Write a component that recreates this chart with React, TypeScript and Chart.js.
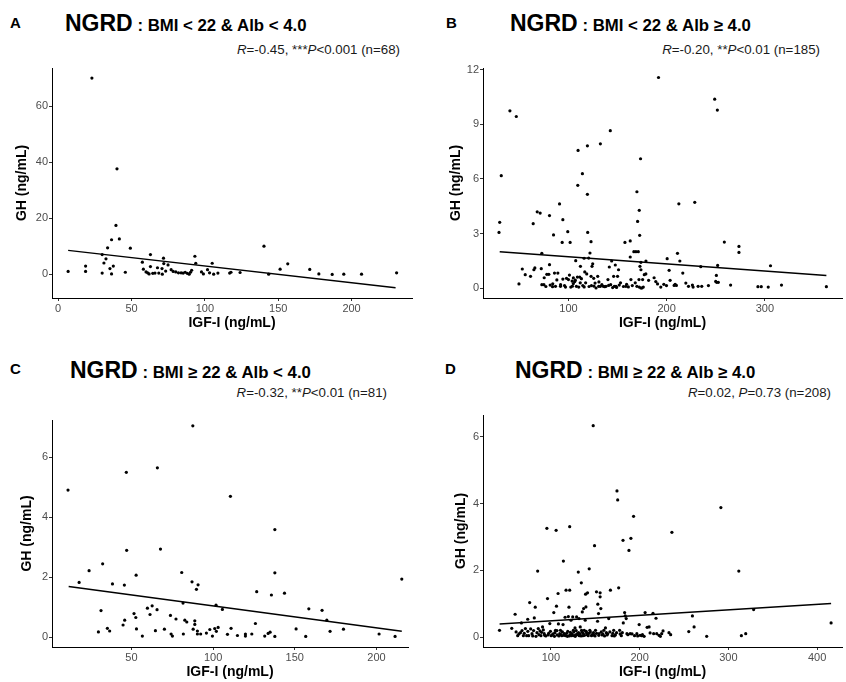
import React, { useEffect, useRef } from "react";
import { Chart, registerables } from "chart.js";

Chart.register(...registerables);

const FONT = '"Liberation Sans", Arial, Helvetica, sans-serif';

type P = [number, number];

// ---------- Panel A : BMI < 22 & Alb < 4.0 ----------
const pointsA: P[] = [
  [6.8, 1.1], [18.7, 1.1], [18.7, 3.0], [23, 70.1], [30, 7.1], [30, 0.5], [31.2, 4.1], [32.6, 5.6],
  [33.7, 9.5], [35.3, 2.1], [36.4, 12.4], [36.4, 0.2], [37.6, 3.0], [39.4, 17.5], [40.1, 37.7], [41.7, 12.7],
  [45.8, 0.8], [49.2, 9.4], [57.4, 4.4], [58.1, 1.9], [59.9, 0.9], [61, 0.6], [62, 0.2], [62.9, 7.1],
  [62.9, 2.8], [64.5, 0.4], [66, 0.5], [67.7, 2.4], [68.6, 0.5], [70.8, 2.1], [71, 0.1], [71.8, 5.8], [72, 3.9],
  [73.3, 1.2], [74.9, 3.4], [77, 1.7], [78.4, 1.1], [80.2, 0.9], [82, 0.6], [83.8, 0.6], [85.2, 0.5],
  [86.6, 0.8], [88, 0.4], [89.3, 0.1], [90.2, 0.8], [91, 1.5], [93.2, 6.5], [93.8, 4.0], [97.7, 0.9], [99, 0.2],
  [101.8, 1.7], [103.2, 0.6], [105, 4.0], [106, 0.1], [108.9, 0.5], [116.9, 0.5], [117.8, 0.8], [124, 0.7],
  [140.3, 10.1], [143.5, 0.1], [151.3, 1.9], [156.5, 3.8], [171.5, 1.8], [177.7, 0.2], [186.8, 0.0],
  [194.7, 0.1], [206.8, 0.1], [230.7, 0.6],
];
const fitA: P[] = [[6.8, 8.6], [230, -4.7]];
const xTicksA = [0, 50, 100, 150, 200];
const yTicksA = [0, 20, 40, 60];

// ---------- Panel B : BMI < 22 & Alb >= 4.0 ----------
const pointsB: P[] = [
  [29.3, 3.07], [30, 3.62], [31.6, 6.18], [40.4, 9.74], [46.9, 9.43], [49.6, 0.24], [53, 1.06], [56, 0.75],
  [61.4, 0.66], [64.1, 3.55], [64.8, 1.02], [65.8, 1.12], [68.2, 4.2], [71.2, 4.13], [72.3, 1.08], [72.9, 1.92],
  [72.9, 0.2], [75, 0.2], [75.3, 0.58], [78, 0.77], [80, 0.77], [80.7, 3.99], [80.7, 1.3], [81.4, 0.18],
  [83.8, 0.09], [84.8, 2.93], [85.8, 0.84], [86.8, 0.11], [88.2, 0.46], [89.2, 0.84], [90.9, 4.63], [91.9, 0.11],
  [93.6, 2.52], [94.3, 3.77], [94.3, 0.51], [97, 0.07], [99.3, 3.11], [100, 0.48], [101, 0.73], [101.7, 2.52],
  [102.4, 0.07], [103.7, 0.4], [105, 0.57], [105, 0.26], [106.4, 0.37], [107.4, 1.52], [108.1, 0.11], [109.1, 0.62],
  [109.8, 7.57], [109.5, 5.65], [110.5, 0.07], [111.5, 0.62], [112.2, 1.21], [113.2, 0.53], [114.2, 6.29],
  [114.6, 0.15], [115.9, 1.65], [116.6, 0.9], [118.6, 0.79], [119.3, 7.82], [119.3, 5.16], [119.6, 3.07],
  [120.6, 1.66], [121.9, 1.94], [123, 2.56], [123, 0.66], [123.4, 0.15], [124, 1.21], [124.7, 1.35], [125.7, 0.55],
  [127.1, 0.29], [128.1, 0.02], [129.8, 0.66], [130.8, 0.11], [132.5, 7.93], [132.5, 0.11], [135.5, 0.11],
  [138.2, 0.11], [140.2, 0.48], [140.9, 0.16], [141.6, 1.17], [142.6, 8.65], [144, 1.5], [145, 0.04], [146, 0.66],
  [146.7, 0.11], [147.7, 1.28], [148.4, 0.11], [150, 0.66], [151, 1.02], [151.7, 0.18], [157.5, 2.52], [158.5, 0.11],
  [159.2, 0.22], [162.9, 2.6], [162.9, 1.72], [163.6, 0.48], [166.6, 2.01], [168.7, 2.01], [169.7, 5.3],
  [169.7, 0.11], [170.4, 3.67], [171.1, 2.01], [171.8, 0.48], [172.1, 0.07], [172.1, 4.28], [172.5, 2.91],
  [172.8, 1.21], [173.4, 7.11], [173.8, 1.02], [173.8, 0.02], [174.8, 0.02], [177.2, 0.75], [178.9, 1.5],
  [181.6, 0.44], [173.8, 1.43], [175.5, 0.48], [176.2, 0.07], [178.8, 0.79], [187.2, 0.58], [188.9, 0.37],
  [190.7, 0.24], [191.7, 11.57], [194, 0.07], [197.1, 0.22], [199.8, 0.15], [200.5, 1.63], [202.5, 0.99],
  [203.5, 0.44], [207.6, 0.16], [208.6, 0.22], [209.9, 0.16], [211, 1.92], [212.4, 4.64], [213.4, 1.5],
  [216.4, 0.84], [219.5, 0.29], [222.2, 0.11], [226.2, 0.18], [226.9, 0.07], [228.6, 4.72], [232, 0.11],
  [234.7, 1.19], [235.7, 0.11], [242.5, 0.15], [248.9, 10.38], [249.9, 0.38], [250.6, 0.71], [250.9, 0.33],
  [251.6, 9.78], [251.9, 1.26], [252.6, 0.33], [258.7, 2.54], [265.1, 0.18], [273.6, 2.3], [273.6, 1.97],
  [292.9, 0.09], [296.3, 0.09], [303.4, 0.07], [305.7, 1.24], [316.9, 0.18], [362.6, 0.09],
  [77, 0.1], [84, 0.25], [92, 0.2], [96, 0.15], [98, 0.55], [104, 0.12], [107, 0.45], [112, 0.3], [116, 0.08],
  [117.5, 0.3], [121, 0.1], [126, 0.12], [131, 0.35], [134, 0.2], [137, 0.09], [143, 0.2], [149, 0.05],
  [153, 0.3], [156, 0.1], [161, 0.08], [165, 0.15], [168, 0.3],
];
const fitB: P[] = [[30, 2.01], [362.6, 0.7]];
const xTicksB = [100, 200, 300];
const yTicksB = [0, 3, 6, 9, 12];

// ---------- Panel C : BMI >= 22 & Alb < 4.0 ----------
const pointsC: P[] = [
  [11.2, 4.91], [18, 1.83], [24.1, 2.22], [29.8, 0.18], [31.4, 0.89], [32.4, 2.45], [35.3, 0.3], [36.7, 0.21],
  [38.4, 1.78], [44.9, 0.41], [45.7, 1.74], [45.9, 0.57], [46.9, 5.5], [47.1, 2.9], [51.6, 0.79], [52.7, 0.66],
  [52.9, 2.07], [53.1, 0.28], [56.7, 0.04], [59.8, 0.97], [61.4, 0.76], [62.7, 1.05], [64.7, 0.22], [65.7, 0.92],
  [65.9, 5.65], [67.8, 2.94], [70.2, 0.27], [73.9, 0.73], [74.3, 0.11], [75.1, 0.04], [77.3, 0.61], [80.8, 2.16],
  [81.6, 1.14], [81.8, 0.11], [82.7, 0.57], [83.9, 0.51], [87.1, 1.85], [87.6, 7.05], [87.8, 0.27], [88.8, 0.55],
  [88.8, 0.43], [89.8, 1.6], [90.4, 0.21], [90.8, 1.75], [90.4, 0.11], [92.4, 0.11], [95.9, 0.14], [98, 0.26],
  [99.6, 0.04], [101, 0.29], [101.8, 1.07], [102, 0.2], [103.1, 0.33], [105.7, 0.93], [108.8, 0.1], [110.6, 4.7],
  [111, 0.3], [114.9, 0.06], [119.8, 0.11], [119.8, 0.04], [123.7, 0.11], [125.9, 0.46], [126.7, 1.52],
  [131.6, 0.04], [133.7, 0.13], [134.9, 0.17], [135.7, 1.41], [137.8, 3.59], [137.8, 2.15], [137.8, 0.03],
  [143.7, 1.47], [150.8, 0.28], [156.7, 0.03], [158.6, 0.95], [166.7, 0.9], [169.6, 0.57], [171.6, 0.2],
  [179.8, 0.27], [201.6, 0.11], [211.4, 0.03], [215.5, 1.94],
];
const fitC: P[] = [[11.6, 1.69], [215.5, 0.2]];
const xTicksC = [50, 100, 150, 200];
const yTicksC = [0, 2, 4, 6];

// ---------- Panel D : BMI >= 22 & Alb >= 4.0 ----------
const pointsD: P[] = [
  [42.1, 0.21], [55.9, 0.27], [59.7, 0.69], [60.8, 0.16], [62.6, 0.05], [65.7, 0.14], [66.8, 0.43], [69, 0.05],
  [71.3, 0.26], [72.7, 0.05], [73.9, 0.54], [75, 0.05], [76.1, 1.04], [77.2, 0.25], [78.7, 0.11], [81.3, 0.58],
  [82.4, 0.9], [83.2, 0.03], [84.3, 0.14], [85.1, 1.98], [85.8, 0.26], [87.7, 0.19], [88.8, 0.05], [90.6, 0.31],
  [92.5, 0.11], [94.3, 0.04], [95.5, 3.26], [96.2, 1.16], [96.9, 0.07], [98.8, 0.41], [100.3, 0.05], [101.5, 0.07],
  [103.3, 0.74], [104, 0.03], [105.2, 0.21], [105.9, 3.2], [106.3, 0.93], [107, 0.07], [108.1, 1.31], [108.5, 0.4],
  [110, 0.11], [110.8, 0.21], [112.3, 0.05], [113.7, 0.38], [114.1, 2.28], [115.2, 0.11], [116, 0.6], [116.7, 0.05],
  [117.1, 1.41], [118.6, 0.03], [119.7, 0.62], [120.4, 0.9], [121.2, 1.41], [121.2, 3.31], [121.6, 0.07],
  [122.7, 0.51], [123.4, 0.05], [124.6, 0.61], [125.3, 0.21], [126, 0.05], [127.2, 0.28], [127.9, 0.07], [129, 0.61],
  [129.8, 0.11], [130.9, 1.95], [131.7, 0.56], [132, 0.05], [133.1, 0.31], [134.3, 1.63], [134.6, 0.21],
  [135.4, 0.76], [136.1, 0.05], [136.9, 0.86], [137.6, 0.21], [138.7, 0.51], [139.1, 1.29], [139.5, 0.91],
  [140.2, 0.13], [141.3, 1.33], [142.1, 0.05], [143.2, 2.05], [143.9, 0.21], [145.8, 0.05], [147.7, 6.33],
  [148.8, 0.06], [149.2, 2.74], [150.3, 0.21], [151.4, 1.36], [152.6, 0.48], [152.9, 0.99], [153.7, 0.71],
  [154.4, 0.11], [155.5, 1.33], [155.5, 1.21], [156.3, 0.86], [157.8, 0.07], [159.7, 0.21], [161.5, 0.28],
  [163.3, 0.07], [165.2, 0.56], [167.1, 1.41], [168.9, 0.05], [170.8, 0.21], [172.7, 0.07], [174.5, 4.38],
  [175.3, 4.11], [176.4, 1.48], [177.5, 0.21], [179.4, 0.05], [181.3, 2.9], [181.6, 0.43], [183.1, 0.74],
  [183.8, 0.64], [184.9, 0.56], [185.7, 0.11], [188, 2.6], [189.4, 0.11], [190.2, 2.96], [193.2, 3.62],
  [194.3, 0.05], [196.9, 0.11], [199.5, 0.38], [202.5, 0.05], [206.2, 0.74], [208.5, 0.3],
  [200.6, 0.06], [203.2, 0.08], [205.1, 0.03], [210.7, 0.31], [211.8, 0.13], [215.1, 0.72], [215.8, 0.11],
  [218.5, 0.57], [219.3, 0.11], [221.9, 0.06], [223.4, 0.03], [224.9, 0.11], [226.4, 0.19], [233.1, 0.14],
  [235, 0.08], [236.4, 3.14], [255.4, 0.17], [259.5, 0.64], [261.4, 0.31], [275.6, 0.03], [291.6, 3.88],
  [311.8, 1.98], [314.7, 0.05], [319.6, 0.11], [328.5, 0.83], [415.8, 0.43],
  [64, 0.1], [67.5, 0.2], [70, 0.12], [74, 0.18], [79.5, 0.04], [80.5, 0.2], [86.5, 0.08], [89.5, 0.15],
  [91.5, 0.22], [93, 0.06], [97.5, 0.12], [99.5, 0.18], [102.5, 0.1], [104.5, 0.14], [106.8, 0.2], [109, 0.04],
  [111.5, 0.08], [113, 0.16], [114.8, 0.06], [117.8, 0.12], [119, 0.18], [120.8, 0.04], [122, 0.15], [123.9, 0.1],
  [125.8, 0.16], [127.5, 0.03], [128.5, 0.2], [130, 0.08], [131.2, 0.14], [132.8, 0.1], [134, 0.04], [135, 0.16],
  [136.5, 0.12], [137.9, 0.06], [139.8, 0.18], [141, 0.08], [142.8, 0.12], [144.5, 0.16], [146.5, 0.08],
  [148, 0.14], [149.8, 0.04], [151.5, 0.12], [154, 0.06], [156.8, 0.16], [158.6, 0.1], [160.5, 0.04],
  [162.5, 0.14], [164, 0.1], [166.5, 0.16], [169.8, 0.12], [171.5, 0.04], [174, 0.14], [178, 0.1], [180.5, 0.14],
  [186.8, 0.08], [191.5, 0.1], [197.8, 0.04],
];
const fitD: P[] = [[42.2, 0.4], [415.8, 1.01]];
const xTicksD = [100, 200, 300, 400];
const yTicksD = [0, 2, 4, 6];

// ---------- Header texts ----------
type Seg = { t: string; i?: boolean };
const statsA: Seg[] = [{ t: "R", i: true }, { t: "=-0.45, ***" }, { t: "P", i: true }, { t: "<0.001 (n=68)" }];
const statsB: Seg[] = [{ t: "R", i: true }, { t: "=-0.20, **" }, { t: "P", i: true }, { t: "<0.01 (n=185)" }];
const statsC: Seg[] = [{ t: "R", i: true }, { t: "=-0.32, **" }, { t: "P", i: true }, { t: "<0.01 (n=81)" }];
const statsD: Seg[] = [{ t: "R", i: true }, { t: "=0.02, " }, { t: "P", i: true }, { t: "=0.73 (n=208)" }];

const subA = " : BMI < 22 & Alb < 4.0";
const subB = " : BMI < 22 & Alb \u2265 4.0";
const subC = " : BMI \u2265 22 & Alb < 4.0";
const subD = " : BMI \u2265 22 & Alb \u2265 4.0";

interface PanelCfg {
  pts: P[];
  fit: P[];
  xTicks: number[];
  yTicks: number[];
  xMin: number; xMax: number; yMin: number; yMax: number;
  area: { l: number; t: number; r: number; b: number };
  colLeft: number; colRight: number;
  yTitleX: number;
}

const panels: PanelCfg[] = [
  { pts: pointsA, fit: fitA, xTicks: xTicksA, yTicks: yTicksA, xMin: -4.2, xMax: 241.2, yMin: -8.4, yMax: 73.7,
    area: { l: 52, t: 68, r: 412, b: 298 }, colLeft: 0, colRight: 423, yTitleX: 22 },
  { pts: pointsB, fit: fitB, xTicks: xTicksB, yTicks: yTicksB, xMin: 13, xMax: 378.5, yMin: -0.53, yMax: 12.09,
    area: { l: 483, t: 68, r: 843, b: 298 }, colLeft: 423, colRight: 846, yTitleX: 456 },
  { pts: pointsC, fit: fitC, xTicks: xTicksC, yTicks: yTicksC, xMin: 1.4, xMax: 219.3, yMin: -0.324, yMax: 7.245,
    area: { l: 52, t: 420, r: 408, b: 647 }, colLeft: 0, colRight: 423, yTitleX: 27 },
  { pts: pointsD, fit: fitD, xTicks: xTicksD, yTicks: yTicksD, xMin: 23.5, xMax: 428.1, yMin: -0.29, yMax: 6.65,
    area: { l: 483, t: 415, r: 845, b: 647 }, colLeft: 423, colRight: 846, yTitleX: 461 },
];

const headers = [
  { letter: "A", lx: 10, ly: 15, tx: 65, ty: 12, sub: subA, stats: statsA, sr: 400, sy: 43 },
  { letter: "B", lx: 446, ly: 15, tx: 510, ty: 12, sub: subB, stats: statsB, sr: 820, sy: 43 },
  { letter: "C", lx: 10, ly: 361, tx: 70, ty: 359, sub: subC, stats: statsC, sr: 387, sy: 386 },
  { letter: "D", lx: 445, ly: 361, tx: 515, ty: 359, sub: subD, stats: statsD, sr: 831, sy: 386 },
];

const TOP_PAD = 10;
const X_AXIS_H = 34;

function ScatterPanel({ cfg }: { cfg: PanelCfg }) {
  const ref = useRef<HTMLCanvasElement>(null);
  const { area, colLeft, colRight } = cfg;
  const cTop = area.t - TOP_PAD;
  const cBottom = area.b + X_AXIS_H;
  const width = colRight - colLeft;
  const height = cBottom - cTop;

  useEffect(() => {
    if (!ref.current) return;
    const tickFont = { family: FONT, size: 11 };
    const titleFont = { family: FONT, size: 14, weight: "bold" as const };
    const chart = new Chart(ref.current, {
      type: "scatter",
      data: {
        datasets: [
          {
            data: cfg.pts.map(([x, y]) => ({ x, y })),
            pointRadius: 1.6,
            pointBackgroundColor: "#000",
            pointBorderWidth: 0,
            showLine: false,
          },
          {
            data: cfg.fit.map(([x, y]) => ({ x, y })),
            showLine: true,
            borderColor: "#000",
            borderWidth: 1.5,
            pointRadius: 0,
          },
        ],
      },
      options: {
        animation: false,
        responsive: false,
        maintainAspectRatio: false,
        devicePixelRatio: 1,
        events: [],
        layout: { padding: { left: 0, top: TOP_PAD, right: colRight - area.r, bottom: 0 } },
        plugins: { legend: { display: false }, tooltip: { enabled: false } },
        scales: {
          x: {
            type: "linear",
            min: cfg.xMin,
            max: cfg.xMax,
            afterBuildTicks: (s: any) => { s.ticks = cfg.xTicks.map((v) => ({ value: v })); },
            afterFit: (s: any) => { s.height = X_AXIS_H; },
            grid: { drawOnChartArea: false, drawTicks: true, tickLength: 3, color: "#333", lineWidth: 1 },
            border: { display: true, color: "#000", width: 1 },
            ticks: { font: tickFont, color: "#4d4d4d", padding: 1, maxRotation: 0, autoSkip: false },
            title: {
              display: true, text: "IGF-I (ng/mL)", font: titleFont, color: "#000",
              padding: { top: 0, bottom: 0 },
            },
          },
          y: {
            type: "linear",
            min: cfg.yMin,
            max: cfg.yMax,
            afterBuildTicks: (s: any) => { s.ticks = cfg.yTicks.map((v) => ({ value: v })); },
            afterFit: (s: any) => { s.width = area.l - colLeft; },
            grid: { drawOnChartArea: false, drawTicks: true, tickLength: 3, color: "#333", lineWidth: 1 },
            border: { display: true, color: "#000", width: 1 },
            ticks: { font: tickFont, color: "#4d4d4d", padding: 1, autoSkip: false },
            title: {
              display: true, text: "GH (ng/mL)", font: titleFont, color: "#000",
              padding: { top: cfg.yTitleX - colLeft - 8.4, bottom: 0 },
            },
          },
        },
      },
    } as any);
    return () => chart.destroy();
  }, []);

  return (
    <canvas
      ref={ref}
      width={width}
      height={height}
      style={{ position: "absolute", left: colLeft, top: cTop, width, height }}
    />
  );
}

export default function App() {
  return (
    <div
      style={{
        position: "fixed", left: 0, top: 0, width: 846, height: 682,
        background: "#fff", fontFamily: FONT, color: "#000", overflow: "hidden",
      }}
    >
      {panels.map((p, i) => (
        <ScatterPanel key={i} cfg={p} />
      ))}
      {headers.map((h) => (
        <React.Fragment key={h.letter}>
          <div style={{ position: "absolute", left: h.lx, top: h.ly, fontSize: 15, lineHeight: 1, fontWeight: "bold", whiteSpace: "nowrap" }}>
            {h.letter}
          </div>
          <div style={{ position: "absolute", left: h.tx, top: h.ty, fontSize: 23, lineHeight: 1, fontWeight: "bold", whiteSpace: "nowrap" }}>
            <span>NGRD</span>
            <span style={{ fontSize: 16.8 }}>{h.sub}</span>
          </div>
          <div style={{ position: "absolute", right: 846 - h.sr, top: h.sy, fontSize: 13.3, lineHeight: 1, whiteSpace: "nowrap", color: "#1a1a1a" }}>
            {h.stats.map((s, k) => (s.i ? <i key={k}>{s.t}</i> : <span key={k}>{s.t}</span>))}
          </div>
        </React.Fragment>
      ))}
    </div>
  );
}
